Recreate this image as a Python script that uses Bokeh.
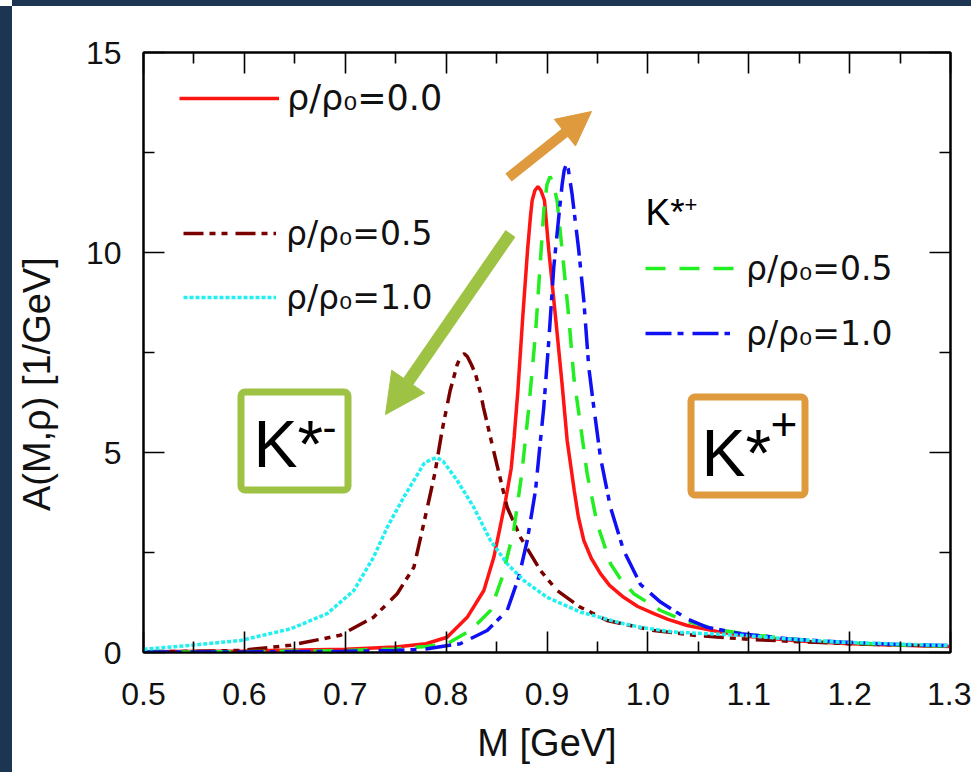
from bokeh.plotting import figure
from bokeh.layouts import row, column
from bokeh.models import (Range1d, LinearAxis, FixedTicker, Legend, LegendItem,
                          Label, Arrow, NormalHead, BoxAnnotation, Spacer)
from bokeh.embed import file_html
from bokeh.resources import INLINE

# ---------------- data ----------------
x_ticks = [0.5, 0.6, 0.7, 0.8, 0.9, 1.0, 1.1, 1.2, 1.3]
x_tick_labels = ["0.5", "0.6", "0.7", "0.8", "0.9", "1.0", "1.1", "1.2", "1.3"]
x_minor = [0.55, 0.65, 0.75, 0.85, 0.95, 1.05, 1.15, 1.25]
y_ticks = [0, 5, 10, 15]
y_tick_labels = ["0", "5", "10", "15"]
y_minor = [2.5, 7.5, 12.5]

# rho/rho0 = 0.0 (vacuum)
m_00 = [0.50, 0.60, 0.70, 0.75, 0.78, 0.801, 0.8209, 0.8374, 0.8473, 0.8522, 0.8589, 0.8645,
        0.8675, 0.871, 0.876, 0.8807, 0.8836, 0.8853, 0.888, 0.891, 0.894, 0.8975, 0.9018,
        0.9084, 0.915, 0.920, 0.927, 0.931, 0.9365, 0.944, 0.953, 0.962, 0.976, 0.990, 1.006,
        1.020, 1.039, 1.072, 1.10, 1.15, 1.20, 1.25, 1.30]
a_00 = [0.02, 0.04, 0.08, 0.14, 0.22, 0.38, 0.88, 1.55, 2.38, 2.97, 3.8, 4.6,
        5.4, 6.5, 8.4, 10.05, 10.9, 11.3, 11.55, 11.65, 11.55, 11.3, 10.05,
        8.4, 6.7, 5.3, 4.05, 3.4, 2.8, 2.35, 1.97, 1.68, 1.38, 1.15, 0.97,
        0.83, 0.675, 0.51, 0.40, 0.29, 0.22, 0.18, 0.15]

# K*- rho/rho0 = 0.5
m_km05 = [0.50, 0.55, 0.596, 0.6457, 0.695, 0.728, 0.7515, 0.768, 0.7778, 0.789, 0.796, 0.804,
          0.811, 0.815, 0.818, 0.821, 0.825, 0.829, 0.834, 0.837, 0.847, 0.8605, 0.8737,
          0.8935, 0.91, 0.9332, 0.9597, 1.006, 1.05, 1.10, 1.15, 1.20, 1.25, 1.30]
a_km05 = [0.02, 0.03, 0.05, 0.18, 0.43, 0.88, 1.47, 2.13, 3.22, 4.5, 5.55, 6.55,
          7.2, 7.42, 7.47, 7.4, 7.2, 6.97, 6.5, 6.13, 5.05, 3.63, 2.88,
          2.05, 1.55, 1.13, 0.8, 0.55, 0.42, 0.33, 0.27, 0.22, 0.19, 0.16]

# K*- rho/rho0 = 1.0
m_km10 = [0.50, 0.5466, 0.596, 0.6457, 0.682, 0.7085, 0.728, 0.7416, 0.758, 0.778, 0.785,
          0.791, 0.797, 0.811, 0.8274, 0.844, 0.8605, 0.877, 0.900, 0.9332, 0.976, 0.9927,
          1.0257, 1.092, 1.15, 1.191, 1.25, 1.30]
a_km10 = [0.08, 0.18, 0.30, 0.59, 0.97, 1.55, 2.38, 3.13, 3.88, 4.72, 4.83,
          4.87, 4.78, 4.3, 3.63, 2.8, 2.22, 1.8, 1.38, 1.01, 0.72, 0.63,
          0.51, 0.43, 0.32, 0.26, 0.21, 0.17]

# K*+ rho/rho0 = 0.5
m_kp05 = [0.50, 0.60, 0.70, 0.75, 0.78, 0.801, 0.824, 0.844, 0.8556, 0.867, 0.875, 0.882,
          0.8886, 0.8935, 0.897, 0.900, 0.903, 0.906, 0.910, 0.9167, 0.9216, 0.9266, 0.933,
          0.9398, 0.9497, 0.963, 0.9725, 0.986, 1.0125, 1.0356, 1.07, 1.10, 1.15, 1.20,
          1.25, 1.30]
a_kp05 = [0.01, 0.02, 0.05, 0.09, 0.15, 0.22, 0.55, 1.05, 1.88, 3.05, 4.47, 6.13,
          7.97, 9.8, 11.1, 11.7, 11.9, 11.75, 11.3, 9.63, 8.38, 6.88, 5.72,
          4.47, 3.22, 2.22, 1.85, 1.47, 1.05, 0.8, 0.57, 0.45, 0.32, 0.24,
          0.19, 0.16]

# K*+ rho/rho0 = 1.0
m_kp10 = [0.50, 0.60, 0.70, 0.75, 0.78, 0.814, 0.8407, 0.8605, 0.872, 0.8804, 0.8886, 0.8935,
          0.8968, 0.9018, 0.9067, 0.9117, 0.915, 0.917, 0.919, 0.921, 0.9248, 0.9315, 0.9365,
          0.9414, 0.9464, 0.953, 0.9629, 0.976, 0.9927, 1.0125, 1.039, 1.0588, 1.092, 1.141,
          1.191, 1.25, 1.30]
a_kp10 = [0.01, 0.015, 0.03, 0.05, 0.09, 0.22, 0.55, 1.05, 1.88, 2.8, 4.05, 5.3,
          6.13, 7.8, 9.63, 10.9, 11.7, 12.05, 12.2, 12.1, 11.47, 10.05, 8.8,
          7.13, 6.13, 4.88, 3.63, 2.55, 1.7, 1.26, 0.84, 0.63, 0.47, 0.34,
          0.26, 0.20, 0.17]

legend_labels = ["ρ/ρ₀=0.0", "ρ/ρ₀=0.5", "ρ/ρ₀=1.0", "ρ/ρ₀=0.5", "ρ/ρ₀=1.0"]

# ---------------- styling ----------------
FONT = "Liberation Sans"
LFONT = "DejaVu Sans"
RED = "#FF1414"
DARKRED = "#7A0000"
CYAN = "#22F0F0"
GREEN = "#22EE22"
BLUE = "#1010F5"
ORANGE = "#DE9A3C"
LIME = "#9EC243"
TXT = "#111111"
NAVY = "#1b3553"

p = figure(frame_width=807, frame_height=600,
           min_border_left=131, min_border_right=21, min_border_top=46, min_border_bottom=120,
           x_range=Range1d(0.5, 1.3), y_range=Range1d(0, 15),
           output_backend="svg", toolbar_location=None,
           background_fill_color="white", border_fill_color="white")
p.grid.visible = False
p.outline_line_color = "black"
p.outline_line_width = 2

p.add_layout(LinearAxis(), "above")
p.add_layout(LinearAxis(), "right")

for ax in p.xaxis:
    ax.ticker = FixedTicker(ticks=x_ticks, minor_ticks=x_minor)
    ax.major_label_overrides = {t: l for t, l in zip(x_ticks, x_tick_labels)}
for ax in p.yaxis:
    ax.ticker = FixedTicker(ticks=y_ticks, minor_ticks=y_minor)
    ax.major_label_overrides = {t: l for t, l in zip(y_ticks, y_tick_labels)}

for ax in p.axis:
    ax.axis_line_width = 2
    ax.axis_line_color = "black"
    ax.major_tick_in = 21
    ax.major_tick_out = 0
    ax.minor_tick_in = 11
    ax.minor_tick_out = 0
    ax.major_tick_line_width = 1.6
    ax.minor_tick_line_width = 1.6
    ax.major_tick_line_color = "black"
    ax.minor_tick_line_color = "black"
    ax.major_label_text_font = FONT
    ax.major_label_text_font_size = "32px"
    ax.major_label_text_color = TXT
    ax.axis_label_text_font = FONT
    ax.axis_label_text_font_size = "38px"
    ax.axis_label_text_font_style = "normal"
    ax.axis_label_text_color = TXT

# mirrored axes carry only ticks
p.above[0].major_label_overrides = {t: "" for t in x_ticks}
p.above[0].major_label_standoff = 0
p.right[0].major_label_overrides = {t: "" for t in y_ticks}
p.right[0].major_label_standoff = 0

p.below[0].axis_label = "M [GeV]"
p.below[0].major_label_standoff = 30
p.below[0].axis_label_standoff = 14
p.left[0].axis_label = "A(M,ρ) [1/GeV]" + "\u00a0" * 6
p.left[0].major_label_standoff = 22
p.left[0].axis_label_standoff = 25

# ---------------- curves ----------------
r00 = p.line(m_00, a_00, line_color=RED, line_width=3.5)
rkm05 = p.line(m_km05, a_km05, line_color=DARKRED, line_width=3.5, line_dash="20 6 6 6 6 8")
rkp05 = p.line(m_kp05, a_kp05, line_color=GREEN, line_width=3.5, line_dash="20 14")
rkp10 = p.line(m_kp10, a_kp10, line_color=BLUE, line_width=3.5, line_dash="26 6 6 9")
rkm10 = p.line(m_km10, a_km10, line_color=CYAN, line_width=3.5, line_dash="4 2")

# ---------------- legends ----------------
def add_legend(label, renderer, loc, gw, standoff, size):
    leg = Legend(items=[LegendItem(label=label, renderers=[renderer])],
                 location=loc, glyph_width=gw, glyph_height=40, label_height=40,
                 label_standoff=standoff, padding=0, margin=0, spacing=0,
                 background_fill_alpha=0, border_line_alpha=0,
                 label_text_font=LFONT, label_text_font_size=size,
                 label_text_color=TXT, label_text_baseline="middle")
    p.add_layout(leg)

add_legend(legend_labels[0], r00, (36, 534), 100, 8, "35px")
add_legend(legend_labels[1], rkm05, (40, 399), 93, 10, "33px")
add_legend(legend_labels[2], rkm10, (40, 335), 93, 10, "33px")
add_legend(legend_labels[3], rkp05, (502, 364), 93, 8, "33px")
add_legend(legend_labels[4], rkp10, (502, 299), 85, 16, "33px")

# ---------------- annotations ----------------
p.add_layout(Arrow(end=NormalHead(size=34, fill_color=ORANGE, line_color=ORANGE, line_width=1),
                   x_start=365, y_start=475, x_end=448, y_end=541,
                   start_units="screen", end_units="screen",
                   line_color=ORANGE, line_width=10))
p.add_layout(Arrow(end=NormalHead(size=40, fill_color=LIME, line_color=LIME, line_width=1),
                   x_start=367, y_start=419, x_end=242, y_end=238,
                   start_units="screen", end_units="screen",
                   line_color=LIME, line_width=12))

for (l, r, t, b, col) in [(97.5, 204.5, 260.5, 162.5, LIME), (547.5, 661.5, 255.5, 157.5, ORANGE)]:
    p.add_layout(BoxAnnotation(left=l, right=r, top=t, bottom=b,
                               left_units="screen", right_units="screen",
                               top_units="screen", bottom_units="screen",
                               fill_alpha=0, line_color=col, line_alpha=1.0,
                               line_width=7, border_radius=4))

def add_text(txt, x, y, size):
    p.add_layout(Label(text=txt, x=x, y=y, x_units="screen", y_units="screen",
                       text_font=FONT, text_font_size=size, text_color="black",
                       text_baseline="alphabetic", text_align="left"))

add_text("K*", 110, 209, "66px")
add_text("-", 179, 225, "42px")
add_text("K*", 558, 200, "66px")
add_text("+", 627, 229, "46px")
add_text("K*", 502, 440, "37px")
add_text("+", 541, 448, "22px")

# dark edge of the original slide (left and top strips); the very corner stays white
corner = Spacer(width=12, height=6, styles={"background-color": "#ffffff"})
left_strip = Spacer(width=12, height=766, styles={"background-color": NAVY})
top_strip = Spacer(width=959, height=6, styles={"background-color": NAVY})
page = row(column(corner, left_strip, spacing=0), column(top_strip, p, spacing=0), spacing=0)

html = file_html(page, INLINE, title="K* spectral function")
style = "<style>html, body {overflow:hidden !important; background-color:#ffffff;}</style>"
html = html.replace("</head>", style + "</head>", 1)
open("out.html", "w").write(html)
